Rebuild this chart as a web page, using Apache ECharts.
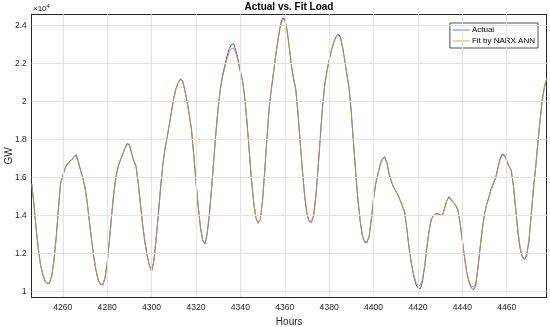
<!DOCTYPE html>
<html>
<head>
<meta charset="utf-8">
<script src="https://cdn.jsdelivr.net/npm/echarts@6/dist/echarts.min.js"></script>
<style>html,body{margin:0;padding:0;background:#fff}#c{width:550px;height:327px}</style>
</head>
<body>
<div id="c"></div>
<script>
const hourStart = 4246;
const actual = [
15700,14600,13300,12200,11400,10900,10550,10420,10450,10800,11600,12800,14300,15700,16100,16500,16700,16850,16950,17100,
17200,16850,16400,16000,15500,14700,13700,12700,11800,11100,10600,10380,10350,10700,11500,12700,14000,15200,16100,16600,
16950,17250,17550,17800,17750,17300,16900,16600,15700,14600,13500,12600,11900,11400,11100,11600,12700,14000,15400,16600,
17500,18100,18800,19500,20200,20700,21000,21200,21100,20600,20000,19300,18500,17200,15800,14500,13400,12700,12500,13000,
14000,15400,16900,18400,19700,20700,21400,21900,22400,22800,23000,23050,22700,22200,21600,21100,20200,18900,17400,15900,
14700,13900,13600,13800,14800,16400,18100,19700,20700,21600,22500,23300,24000,24400,24350,23800,22900,21900,21200,20600,
19300,17800,16300,15000,14100,13700,13650,14000,15000,16500,18100,19700,20900,21600,22200,22700,23100,23400,23550,23450,
22900,22200,21400,20700,19400,17800,16200,14800,13700,12900,12600,12580,12900,13800,14900,15700,16200,16700,17000,17100,
16800,16200,15800,15500,15300,15100,14800,14500,14200,13300,12300,11500,10900,10400,10200,10150,10500,11300,12300,13200,
13800,14000,14100,14100,14050,14000,14400,14800,15000,14850,14700,14550,14300,13600,12700,11800,11000,10500,10200,10100,
10300,11200,12300,13300,14100,14600,15000,15400,15700,16000,16500,17000,17250,17200,16900,16600,16400,15600,14400,13200,
12300,11800,11700,11900,12700,14000,15400,16500,17800,19000,20100,20800,21200
];
const fit = [
15650,14650,13350,12250,11400,10950,10600,10450,10480,10820,11620,12820,14300,15680,16080,16480,16700,16830,16930,17080,
17150,16800,16380,15980,15480,14700,13700,12720,11820,11120,10620,10400,10380,10720,11520,12700,14000,15200,16080,16600,
16940,17230,17520,17760,17720,17280,16880,16580,15700,14600,13500,12620,11900,11380,11050,11580,12700,14000,15400,16600,
17500,18100,18800,19500,20180,20680,20980,21150,21060,20580,19980,19300,18500,17200,15800,14500,13420,12720,12540,13020,
14000,15400,16900,18350,19650,20650,21300,21800,22250,22600,22800,22820,22550,22100,21550,21080,20200,18900,17400,15900,
14700,13920,13620,13820,14800,16400,18100,19700,20700,21600,22480,23280,23950,24330,24300,23760,22880,21900,21250,20620,
19300,17800,16300,15000,14100,13720,13680,14020,15000,16500,18100,19700,20880,21580,22180,22680,23080,23360,23500,23400,
22880,22200,21420,20700,19400,17800,16200,14800,13700,12920,12640,12620,12920,13800,14900,15700,16200,16680,16950,17050,
16780,16220,15820,15520,15300,15100,14800,14520,14200,13300,12320,11520,10950,10500,10350,10330,10620,11350,12300,13200,
13800,14000,14100,14100,14050,14000,14380,14780,14960,14830,14680,14540,14300,13600,12700,11800,11020,10560,10300,10250,
10420,11250,12300,13300,14100,14600,15000,15400,15700,16000,16480,16960,17200,17160,16880,16600,16400,15600,14400,13200,
12320,11850,11750,11950,12700,14000,15400,16500,17800,19000,20100,20800,21200
];
const xTicks = [4260,4280,4300,4320,4340,4360,4380,4400,4420,4440,4460];
const yTicks = [10000,12000,14000,16000,18000,20000,22000,24000];
const xMin = 4246, xMax = 4478;
const yMin = 9720, yMax = 24600;

const actualData = actual.map((v,i)=>[hourStart+i, v]);
const fitData = fit.map((v,i)=>[hourStart+i, v]);

const axisColor = '#262626';
const font = 'Liberation Sans, Arial, Helvetica, sans-serif';

const chart = echarts.init(document.getElementById('c'), null, {renderer:'canvas'});
const baseX = {
  type:'value', min:xMin, max:xMax,
  axisLine:{show:true, onZero:false, lineStyle:{color:axisColor, width:1}},
  axisTick:{show:true, inside:true, length:4, customValues:xTicks, lineStyle:{color:axisColor, width:1}},
  splitLine:{show:false}
};
const baseY = {
  type:'value', min:yMin, max:yMax,
  axisLine:{show:true, onZero:false, lineStyle:{color:axisColor, width:1}},
  axisTick:{show:true, inside:true, length:4, customValues:yTicks, lineStyle:{color:axisColor, width:1}},
  splitLine:{show:false}
};
chart.setOption({
  animation:false,
  backgroundColor:'#ffffff',
  title:{text:'Actual vs. Fit Load', left:289, textAlign:'center', top:2, padding:0,
    textStyle:{fontFamily:font, fontSize:10, fontWeight:'bold', color:'#000'}},
  graphic:[
    {type:'text', left:33, top:3,
      style:{text:'{a|×10}{b|4}', rich:{a:{fontFamily:font, fontSize:8, fill:axisColor}, b:{fontFamily:font, fontSize:6, fill:axisColor, verticalAlign:'top', padding:[0,0,5,0]}}}},
    {type:'text', x:9, y:156, rotation:Math.PI/2,
      style:{text:'GW', align:'center', verticalAlign:'middle', fontFamily:font, fontSize:10, fill:axisColor}}
  ],
  grid:{left:31.7, right:3.3, top:14.3, bottom:30, containLabel:false, outerBoundsMode:'none'},
  legend:{orient:'vertical', right:12, top:23, backgroundColor:'#fff',
    borderColor:axisColor, borderWidth:0.8, padding:[3,3,3,3], itemGap:3,
    itemWidth:17, itemHeight:1, icon:'rect',
    textStyle:{fontFamily:font, fontSize:8, color:'#000', padding:[0,0,0,-3]},
    data:['Actual','Fit by NARX ANN']},
  xAxis:[
    Object.assign({}, baseX, {position:'bottom',
      name:'Hours', nameLocation:'middle', nameGap:16,
      nameTextStyle:{fontFamily:font, fontSize:10, color:axisColor},
      axisLabel:{show:true, customValues:xTicks, margin:6, fontFamily:font, fontSize:8.6, color:axisColor,
        formatter:(v)=>String(v)}}),
    Object.assign({}, baseX, {position:'top', axisLabel:{show:false}})
  ],
  yAxis:[
    Object.assign({}, baseY, {position:'left',
      axisLabel:{show:true, customValues:yTicks, margin:5, fontFamily:font, fontSize:8.4, color:axisColor,
        formatter:(v)=>String(Math.round(v/1000)/10)}}),
    Object.assign({}, baseY, {position:'right', axisLabel:{show:false}})
  ],
  series:[
    {type:'line', name:'grid', data:[], silent:true, z:1,
      markLine:{silent:true, symbol:'none', label:{show:false}, animation:false,
        lineStyle:{color:'#e3e3e3', width:1, type:'solid'},
        data: xTicks.map(v=>({xAxis:v})).concat(yTicks.map(v=>({yAxis:v})))}},
    {type:'line', name:'Actual', data:actualData, showSymbol:false, symbol:'none', z:3,
      lineStyle:{color:'#3f5fbf', width:1}, itemStyle:{color:'#6f82cc'}},
    {type:'line', name:'Fit by NARX ANN', data:fitData, showSymbol:false, symbol:'none', z:4,
      lineStyle:{color:'#c9903f', width:0.9}, itemStyle:{color:'#d9a85a'}}
  ]
});
</script>
</body>
</html>
